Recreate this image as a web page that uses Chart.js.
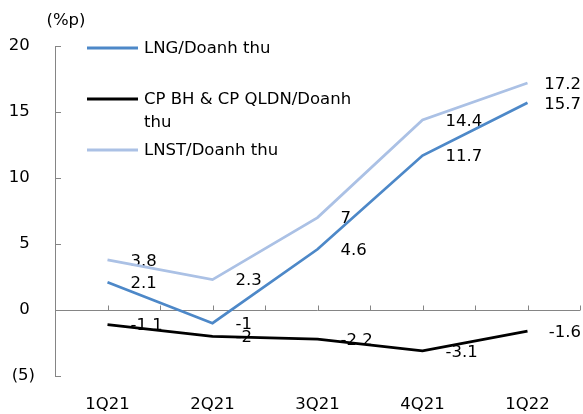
<!DOCTYPE html>
<html>
<head>
<meta charset="utf-8">
<script src="https://cdn.jsdelivr.net/npm/chart.js@4/dist/chart.umd.min.js"></script>
<style>
  html, body { margin: 0; padding: 0; background: #ffffff; }
  #wrap { width: 583px; height: 414px; position: relative; }
</style>
</head>
<body>
<div id="wrap"><canvas id="c"></canvas></div>
<script>
// Quarterly margin ratios (%p)
const categories = ['1Q21', '2Q21', '3Q21', '4Q21', '1Q22'];
const grossMargin = [2.1, -1, 4.6, 11.7, 15.7];      // LNG/Doanh thu
const sgaRatio = [-1.1, -2, -2.2, -3.1, -1.6];       // CP BH & CP QLDN/Doanh thu
const netMargin = [3.8, 2.3, 7, 14.4, 17.2];          // LNST/Doanh thu
const seriesNames = ['LNG/Doanh thu', ['CP BH & CP QLDN/Doanh', 'thu'], 'LNST/Doanh thu'];
const unitLabel = '(%p)';

const FONT_FAMILY = '"DejaVu Sans", Verdana, sans-serif';
const FONT_SIZE = 16.5;
const FONT = FONT_SIZE + 'px ' + FONT_FAMILY;
const AXIS_COLOR = '#858585';

// Zero line, inward tick marks on both axes, and the unit caption
const axisDecor = {
  id: 'axisDecor',
  beforeDatasetsDraw(chart) {
    const { ctx, chartArea, scales } = chart;
    const x = scales.x, y = scales.y;
    const y0 = Math.round(y.getPixelForValue(0)) + 0.5;
    ctx.save();
    ctx.strokeStyle = AXIS_COLOR;
    ctx.lineWidth = 1;
    ctx.beginPath();
    ctx.moveTo(chartArea.left, y0);
    ctx.lineTo(chartArea.right, y0);
    // x ticks at each category centre and boundary, pointing up
    const half = (x.getPixelForValue(1) - x.getPixelForValue(0)) / 2;
    categories.forEach((_, i) => {
      const cx = x.getPixelForValue(i);
      [cx, cx + half].forEach(px => {
        const p = Math.round(px) + 0.5;
        ctx.moveTo(p, y0);
        ctx.lineTo(p, y0 - 5);
      });
    });
    // y ticks pointing right
    y.ticks.forEach(t => {
      const py = Math.round(y.getPixelForValue(t.value)) + 0.5;
      ctx.moveTo(chartArea.left, py);
      ctx.lineTo(chartArea.left + 6, py);
    });
    ctx.stroke();
    ctx.fillStyle = '#000';
    ctx.font = FONT;
    ctx.textAlign = 'center';
    ctx.textBaseline = 'middle';
    ctx.fillText(unitLabel, chartArea.left + 11, chartArea.top - 25);
    ctx.restore();
  }
};

// Value labels to the right of each point (drawn beneath the lines)
const valueLabels = {
  id: 'valueLabels',
  beforeDatasetsDraw(chart) {
    const { ctx } = chart;
    ctx.save();
    ctx.font = FONT;
    ctx.fillStyle = '#000';
    ctx.textAlign = 'left';
    ctx.textBaseline = 'middle';
    chart.data.datasets.forEach((ds, di) => {
      const meta = chart.getDatasetMeta(di);
      meta.data.forEach((pt, i) => {
        const txt = String(ds.data[i]);
        const w = ctx.measureText(txt).width;
        let lx = pt.x + 23;
        if (lx + w > chart.width - 2) lx = chart.width - 2 - w;
        ctx.fillText(txt, lx, pt.y + 1.5);
      });
    });
    ctx.restore();
  }
};

// Legend placed inside the plot, top-left
const insideLegend = {
  id: 'insideLegend',
  afterDraw(chart) {
    const { ctx, chartArea } = chart;
    const rowOffsets = [2, 53, 104];
    const lineHeight = 23;
    ctx.save();
    ctx.font = FONT;
    ctx.textAlign = 'left';
    ctx.textBaseline = 'middle';
    chart.data.datasets.forEach((ds, i) => {
      const yy = chartArea.top + rowOffsets[i];
      const x0 = chartArea.left + 32;
      ctx.strokeStyle = ds.borderColor;
      ctx.lineWidth = 3;
      ctx.beginPath();
      ctx.moveTo(x0, yy);
      ctx.lineTo(x0 + 51, yy);
      ctx.stroke();
      ctx.fillStyle = '#000';
      const lines = Array.isArray(seriesNames[i]) ? seriesNames[i] : [seriesNames[i]];
      lines.forEach((ln, k) => ctx.fillText(ln, x0 + 57, yy + 1 + k * lineHeight));
    });
    ctx.restore();
  }
};

const lineStyle = { fill: false, tension: 0, pointRadius: 0, pointHoverRadius: 0, borderWidth: 2.75 };

new Chart(document.getElementById('c'), {
  type: 'line',
  data: {
    labels: categories,
    datasets: [
      Object.assign({ label: 'LNG/Doanh thu', data: grossMargin, borderColor: '#4d88c8' }, lineStyle),
      Object.assign({ label: 'CP BH & CP QLDN/Doanh thu', data: sgaRatio, borderColor: '#000000' }, lineStyle),
      Object.assign({ label: 'LNST/Doanh thu', data: netMargin, borderColor: '#abc1e5' }, lineStyle)
    ]
  },
  options: {
    responsive: true,
    maintainAspectRatio: false,
    animation: false,
    events: [],
    layout: { padding: { top: 46, right: 3, left: 0, bottom: 0 } },
    plugins: { legend: { display: false }, tooltip: { enabled: false } },
    scales: {
      x: {
        type: 'category',
        offset: true,
        grid: { display: false, drawTicks: false },
        border: { display: false },
        ticks: { color: '#000', font: { family: FONT_FAMILY, size: FONT_SIZE }, padding: 19, maxRotation: 0, autoSkip: false },
        afterFit(scale) { scale.height = 38; }
      },
      y: {
        min: -5,
        max: 20,
        grid: { display: false, drawTicks: false },
        border: { display: true, color: AXIS_COLOR, width: 1 },
        ticks: {
          stepSize: 5,
          color: '#000',
          font: { family: FONT_FAMILY, size: FONT_SIZE },
          padding: 20,
          callback: v => (v < 0 ? '(' + (-v) + ')' : v + ' ')
        },
        afterFit(scale) { scale.width = 55; }
      }
    }
  },
  plugins: [axisDecor, valueLabels, insideLegend]
});
</script>
</body>
</html>
